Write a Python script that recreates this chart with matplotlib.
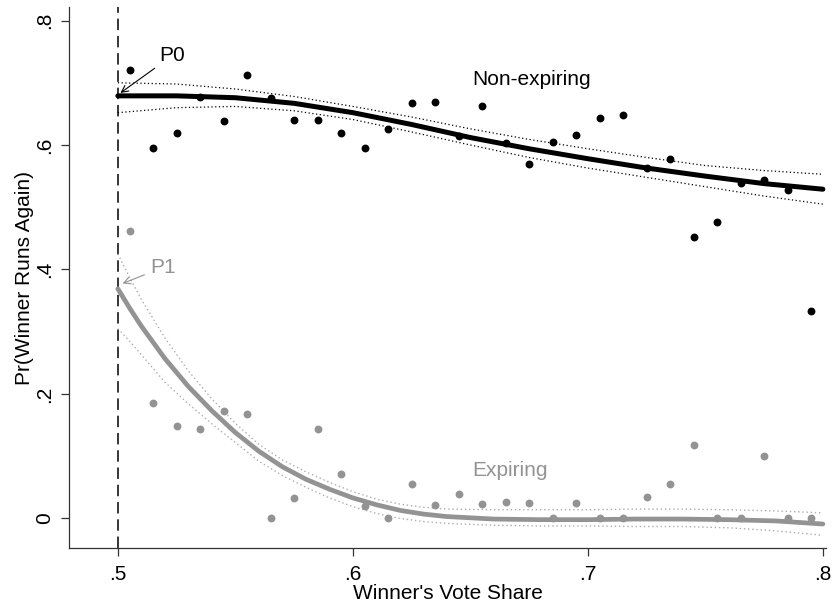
import matplotlib
matplotlib.use("Agg")
import matplotlib.pyplot as plt
import numpy as np

plt.rcParams['font.family'] = ['Liberation Sans', 'DejaVu Sans']

# ------------------------------------------------------------------
# binned means (bin midpoints of winner's vote share)
# ------------------------------------------------------------------
bins = [0.505, 0.515, 0.525, 0.535, 0.545, 0.555, 0.565, 0.575, 0.585, 0.595,
        0.605, 0.615, 0.625, 0.635, 0.645, 0.655, 0.665, 0.675, 0.685, 0.695,
        0.705, 0.715, 0.725, 0.735, 0.745, 0.755, 0.765, 0.775, 0.785, 0.795]

nonexp_pts = [0.720, 0.595, 0.619, 0.677, 0.639, 0.713, 0.676, 0.640, 0.641, 0.619,
              0.596, 0.626, 0.667, 0.669, 0.614, 0.662, 0.604, 0.570, 0.605, 0.616,
              0.643, 0.648, 0.563, 0.578, 0.453, 0.476, 0.539, 0.544, 0.527, 0.333]

exp_pts = [0.462, 0.185, 0.148, 0.143, 0.173, 0.167, 0.000, 0.033, 0.143, 0.072,
           0.020, 0.000, 0.055, 0.021, 0.040, 0.023, 0.027, 0.025, 0.001, 0.025,
           0.000, 0.000, 0.034, 0.056, 0.118, 0.000, 0.000, 0.100, 0.000, 0.000]

# fitted polynomial + confidence band, non-expiring
fit0_x = [0.50, 0.525, 0.55, 0.575, 0.60, 0.625, 0.65, 0.675, 0.70, 0.725, 0.75, 0.775, 0.80]
fit0_y = [0.679, 0.679, 0.676, 0.667, 0.652, 0.633, 0.612, 0.594, 0.578, 0.563, 0.550, 0.538, 0.529]
fit0_hi = [0.700, 0.698, 0.690, 0.678, 0.662, 0.645, 0.626, 0.609, 0.594, 0.580, 0.567, 0.559, 0.553]
fit0_lo = [0.652, 0.660, 0.662, 0.655, 0.641, 0.621, 0.600, 0.580, 0.563, 0.548, 0.533, 0.518, 0.505]

# fitted polynomial + confidence band, expiring
fit1_x = [0.50, 0.505, 0.51, 0.52, 0.53, 0.54, 0.55, 0.56, 0.57, 0.58, 0.59, 0.60,
          0.61, 0.62, 0.63, 0.64, 0.66, 0.68, 0.70, 0.72, 0.74, 0.76, 0.78, 0.80]
fit1_y = [0.369, 0.338, 0.309, 0.257, 0.212, 0.173, 0.138, 0.108, 0.083, 0.063, 0.047, 0.033,
          0.022, 0.013, 0.007, 0.003, -0.001, -0.002, -0.002, -0.001, -0.001, -0.002, -0.004, -0.009]
fit1_hi = [0.425, 0.387, 0.352, 0.290, 0.237, 0.192, 0.153, 0.119, 0.094, 0.075, 0.058, 0.043,
           0.031, 0.023, 0.018, 0.015, 0.014, 0.014, 0.014, 0.015, 0.015, 0.014, 0.012, 0.009]
fit1_lo = [0.305, 0.285, 0.263, 0.219, 0.184, 0.152, 0.122, 0.092, 0.069, 0.050, 0.033, 0.019,
           0.008, 0.000, -0.005, -0.008, -0.011, -0.012, -0.012, -0.013, -0.013, -0.015, -0.020, -0.027]

xticks = [0.5, 0.6, 0.7, 0.8]
xtick_labels = ['.5', '.6', '.7', '.8']
yticks = [0.0, 0.2, 0.4, 0.6, 0.8]
ytick_labels = ['0', '.2', '.4', '.6', '.8']

GRAY = '#939393'
BAND_GRAY = '#adadad'

fig = plt.figure(figsize=(8.36, 6.07), dpi=100)
ax = fig.add_axes([0.0825, 0.0967, 0.906, 0.892])

# threshold line
ax.axvline(0.5, color='black', lw=1.1, dashes=(7.5, 3.8), zorder=1)

# confidence bands
ax.plot(fit0_x, fit0_hi, color='black', lw=0.9, ls=(0, (1, 2)), zorder=2)
ax.plot(fit0_x, fit0_lo, color='black', lw=0.9, ls=(0, (1, 2)), zorder=2)
ax.plot(fit1_x, fit1_hi, color=BAND_GRAY, lw=1.0, ls=(0, (1, 2)), zorder=2)
ax.plot(fit1_x, fit1_lo, color=BAND_GRAY, lw=1.0, ls=(0, (1, 2)), zorder=2)

# fitted lines
ax.plot(fit0_x, fit0_y, color='black', lw=3.6, solid_capstyle='round',
        solid_joinstyle='round', zorder=3)
ax.plot(fit1_x, fit1_y, color=GRAY, lw=3.4, solid_capstyle='round',
        solid_joinstyle='round', zorder=3)

# bin means
ax.scatter(bins, nonexp_pts, s=32, color='black', linewidths=0, zorder=4)
ax.scatter(bins, exp_pts, s=32, color=GRAY, linewidths=0, zorder=4)

# labels inside the plot
ax.text(0.6506, 0.7057, 'Non-expiring', fontsize=15, color='black', va='center', ha='left')
ax.text(0.6506, 0.0776, 'Expiring', fontsize=15, color=GRAY, va='center', ha='left')

ax.annotate('P0', xy=(0.5011, 0.6837), xytext=(0.5178, 0.744), fontsize=15,
            va='center', ha='left', color='black',
            arrowprops=dict(arrowstyle='->', color='black', lw=0.8,
                            shrinkA=2, shrinkB=0, mutation_scale=12))
ax.annotate('P1', xy=(0.502, 0.3775), xytext=(0.5136, 0.403), fontsize=15,
            va='center', ha='left', color=GRAY,
            arrowprops=dict(arrowstyle='->', color=GRAY, lw=0.8,
                            shrinkA=2, shrinkB=0, mutation_scale=12))

ax.set_xlim(0.4792, 0.8015)
ax.set_ylim(-0.048, 0.822)

ax.set_xticks(xticks)
ax.set_xticklabels(xtick_labels)
ax.set_yticks(yticks)
ax.set_yticklabels(ytick_labels, rotation=90, va='center')

ax.tick_params(axis='both', labelsize=15, length=5.8, width=0.9, color='#333333', pad=6)
ax.tick_params(axis='y', pad=5)
ax.set_xlabel("Winner's Vote Share", fontsize=15, labelpad=0)
ax.set_ylabel('Pr(Winner Runs Again)', fontsize=15, labelpad=1)

for side in ['top', 'right']:
    ax.spines[side].set_visible(False)
for side in ['left', 'bottom']:
    ax.spines[side].set_color('#333333')
    ax.spines[side].set_linewidth(0.9)

fig.savefig('out.png', dpi=100)
